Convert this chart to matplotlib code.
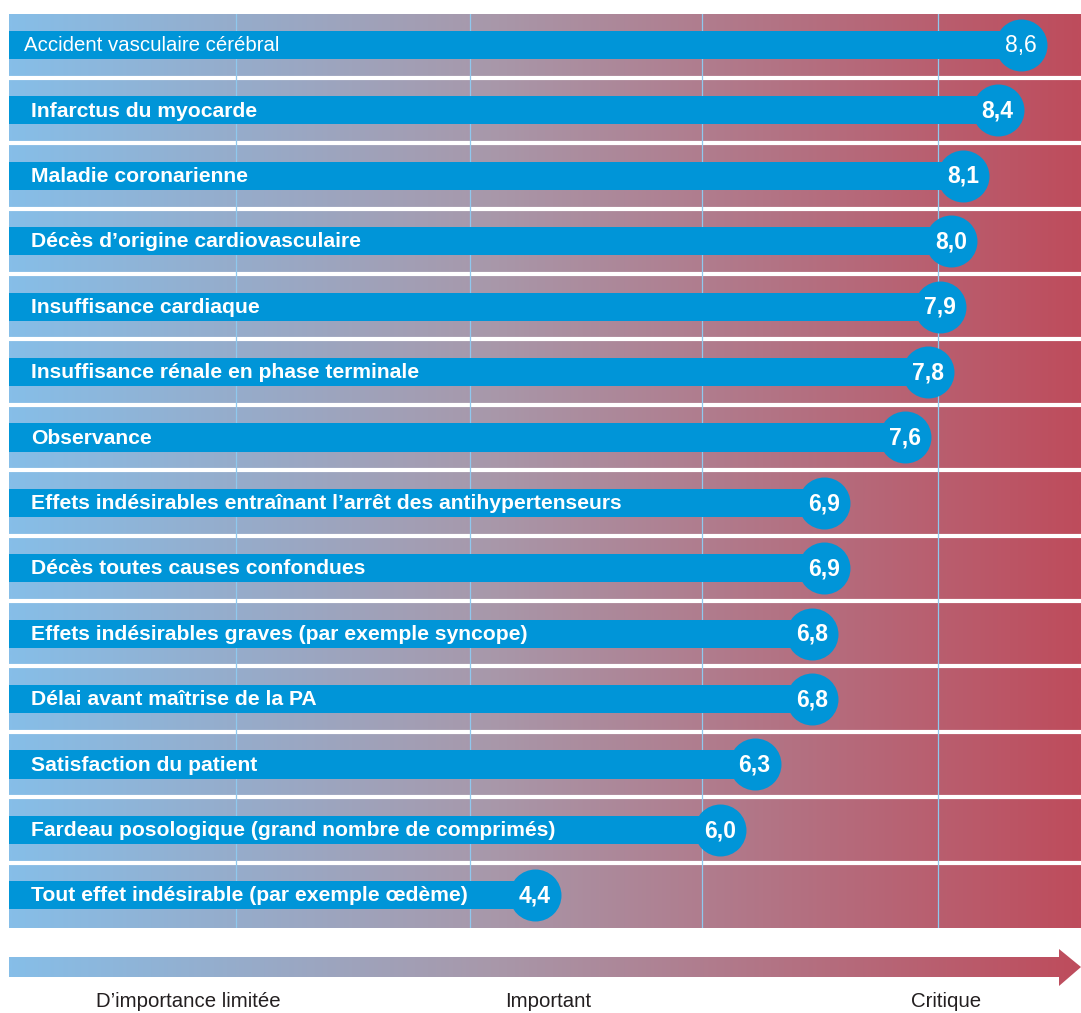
import numpy as np
import matplotlib
matplotlib.use("Agg")
import matplotlib.pyplot as plt
from matplotlib.colors import LinearSegmentedColormap
from matplotlib.patches import Polygon

plt.rcParams['font.family'] = ['Liberation Sans', 'DejaVu Sans']

# Données
criteres = [
    "Accident vasculaire cérébral",
    "Infarctus du myocarde",
    "Maladie coronarienne",
    "Décès d’origine cardiovasculaire",
    "Insuffisance cardiaque",
    "Insuffisance rénale en phase terminale",
    "Observance",
    "Effets indésirables entraînant l’arrêt des antihypertenseurs",
    "Décès toutes causes confondues",
    "Effets indésirables graves (par exemple syncope)",
    "Délai avant maîtrise de la PA",
    "Satisfaction du patient",
    "Fardeau posologique (grand nombre de comprimés)",
    "Tout effet indésirable (par exemple œdème)",
]
scores = [8.6, 8.4, 8.1, 8.0, 7.9, 7.8, 7.6, 6.9, 6.9, 6.8, 6.8, 6.3, 6.0, 4.4]
reperes = [1.82, 3.84, 5.85, 7.88]   # lignes verticales
niveaux = ["D’importance limitée", "Important", "Critique"]

bleu = '#0095D8'
degrade = LinearSegmentedColormap.from_list(
    "deg", [(0, '#86BEE8'), (0.45, '#A898AA'), (1, '#BE4C5C')])
grad = np.linspace(0, 1, 512).reshape(1, -1)

W, H = 1081, 1013
fig = plt.figure(figsize=(W / 100, H / 100), dpi=100)

# Panneau principal
x0, x1 = -0.138, 9.119
ax = fig.add_axes([9 / W, 1 - 928 / H, (W - 9) / W, (928 - 14) / H])
ax.set_xlim(x0, x1)
ax.set_ylim(13.5, -0.474)
ax.axis('off')
ax.imshow(grad, cmap=degrade, aspect='auto', extent=(x0, x1, 13.5, -0.474), zorder=0)

y = np.arange(len(scores))
for i in range(len(scores) - 1):
    ax.axhline(i + 0.5, color='white', lw=3, zorder=1)
for r in reperes:
    ax.axvline(r, color='#8FC8EE', lw=0.9, zorder=2)

ax.barh(y, np.array(scores) - x0, left=x0, height=0.43, color=bleu, zorder=3)
ax.scatter(scores, y, s=1400, color=bleu, linewidths=0, zorder=4)

for i, (c, v) in enumerate(zip(criteres, scores)):
    poids = 'normal' if i == 0 else 'bold'
    xt = -0.01 if i == 0 else 0.05
    taille = 14.7 if i == 0 else 15.2
    ax.text(xt, i + 0.01, c, color='white', fontsize=taille, fontweight=poids,
            va='center', ha='left', zorder=5)
    ax.text(v, i + 0.01, f"{v:.1f}".replace('.', ','), color='white', fontsize=16.5,
            fontweight=poids, va='center', ha='center', zorder=5)

# Flèche du bas
axf = fig.add_axes([0, 0, 1, 1])
axf.set_xlim(0, W)
axf.set_ylim(H, 0)
axf.axis('off')
fleche = Polygon([(9, 957), (1059, 957), (1059, 949), (1081, 967),
                  (1059, 986), (1059, 977), (9, 977)], closed=True,
                 facecolor='none', edgecolor='none')
axf.add_patch(fleche)
im = axf.imshow(grad, cmap=degrade, aspect='auto', extent=(9, 1081, 986, 949))
im.set_clip_path(fleche)

for txt, xc in zip(niveaux, [188, 548, 946]):
    axf.text(xc, 1001, txt, color='#231F20', fontsize=14.7, ha='center', va='center')

fig.savefig("out.png", dpi=100)
